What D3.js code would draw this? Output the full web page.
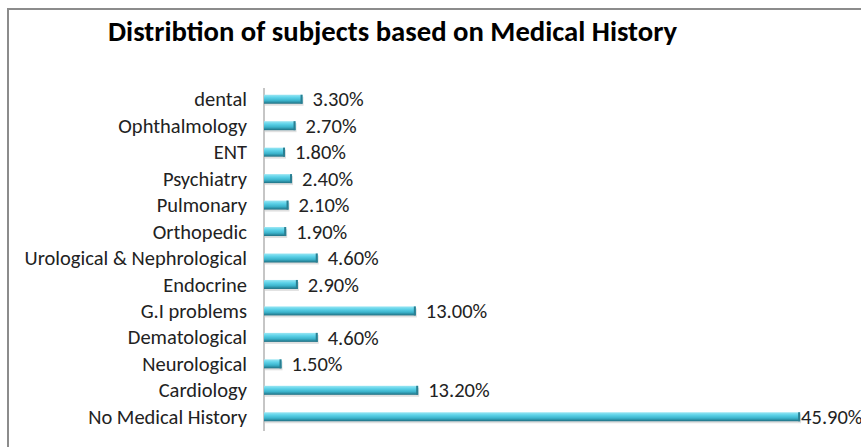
<!DOCTYPE html>
<html>
<head>
<meta charset="utf-8">
<script src="https://cdn.jsdelivr.net/npm/d3@7"></script>
<style>
  body { margin: 0; background: #fff; }
  text { font-family: Carlito, Calibri, Lato, sans-serif; }
</style>
</head>
<body>
<div id="chart"></div>
<script>
// Chart data (top to bottom)
const categories = [
  "dental", "Ophthalmology", "ENT", "Psychiatry", "Pulmonary", "Orthopedic",
  "Urological & Nephrological", "Endocrine", "G.I problems", "Dematological",
  "Neurological", "Cardiology", "No Medical History"
]
const values = [3.3, 2.7, 1.8, 2.4, 2.1, 1.9, 4.6, 2.9, 13.0, 4.6, 1.5, 13.2, 45.9]
const valueLabels = ["3.30%", "2.70%", "1.80%", "2.40%", "2.10%", "1.90%", "4.60%", "2.90%", "13.00%", "4.60%", "1.50%", "13.20%", "45.90%"]
const title = "Distribtion of subjects based on Medical History"

const width = 861
const height = 447

const svg = d3.select("#chart").append("svg").attr("width", width).attr("height", height)

// Bevel gradient for the bars
const defs = svg.append("defs")
const grad = defs.append("linearGradient").attr("id", "barGrad").attr("x1", 0).attr("y1", 0).attr("x2", 0).attr("y2", 1)
grad.append("stop").attr("offset", "0%").attr("stop-color", "#9be6f3")
grad.append("stop").attr("offset", "30%").attr("stop-color", "#5fd3e9")
grad.append("stop").attr("offset", "65%").attr("stop-color", "#3cb4cc")
grad.append("stop").attr("offset", "100%").attr("stop-color", "#1f6f82")

// Outer frame (only top and left edges are visible)
svg.append("path")
  .attr("d", `M8,${height} V9 H${width}`)
  .attr("fill", "none")
  .attr("stroke", "#8c8c8c")
  .attr("stroke-width", 2)

// Title
svg.append("text")
  .attr("x", 108)
  .attr("y", 41)
  .attr("font-size", 28.7)
  .attr("font-weight", "bold")
  .attr("fill", "#000")
  .text(title)

// Scales
const x = d3.scaleLinear().domain([0, 50]).range([264, 848])
const y = d3.scalePoint().domain(categories).range([86, 430]).padding(0.5)
const barH = 9

// Axis
const axis = svg.append("g")
  .attr("transform", `translate(${x(0)},0)`)
  .call(d3.axisLeft(y).tickSize(0).tickPadding(17))
axis.select(".domain").attr("stroke", "#8c8c8c").attr("d", `M0,88V431`)
axis.selectAll("text")
  .attr("font-size", 20.5)
  .attr("fill", "#222")
  .style("font-family", "Carlito, Calibri, Lato, sans-serif")

const rows = categories.map((c, i) => ({ c, v: values[i], label: valueLabels[i] }))

const bar = svg.append("g").selectAll("g").data(rows).enter().append("g")

// shadow
bar.append("rect")
  .attr("x", x(0) + 1)
  .attr("y", (d) => y(d.c) - barH / 2 + 2)
  .attr("width", (d) => x(d.v) - x(0))
  .attr("height", barH)
  .attr("fill", "#000")
  .attr("opacity", 0.12)

bar.append("rect")
  .attr("x", x(0))
  .attr("y", (d) => y(d.c) - barH / 2)
  .attr("width", (d) => x(d.v) - x(0))
  .attr("height", barH)
  .attr("fill", "url(#barGrad)")

// darker end cap
bar.append("rect")
  .attr("x", (d) => x(d.v) - 2)
  .attr("y", (d) => y(d.c) - barH / 2)
  .attr("width", 2)
  .attr("height", barH)
  .attr("fill", "#2a7f92")

// value labels
bar.append("text")
  .attr("x", (d) => (d.v > 40 ? x(d.v) + 1 : x(d.v) + 10))
  .attr("y", (d) => y(d.c))
  .attr("dy", "0.35em")
  .attr("font-size", 20.5)
  .attr("fill", "#222")
  .text((d) => d.label)
</script>
</body>
</html>
